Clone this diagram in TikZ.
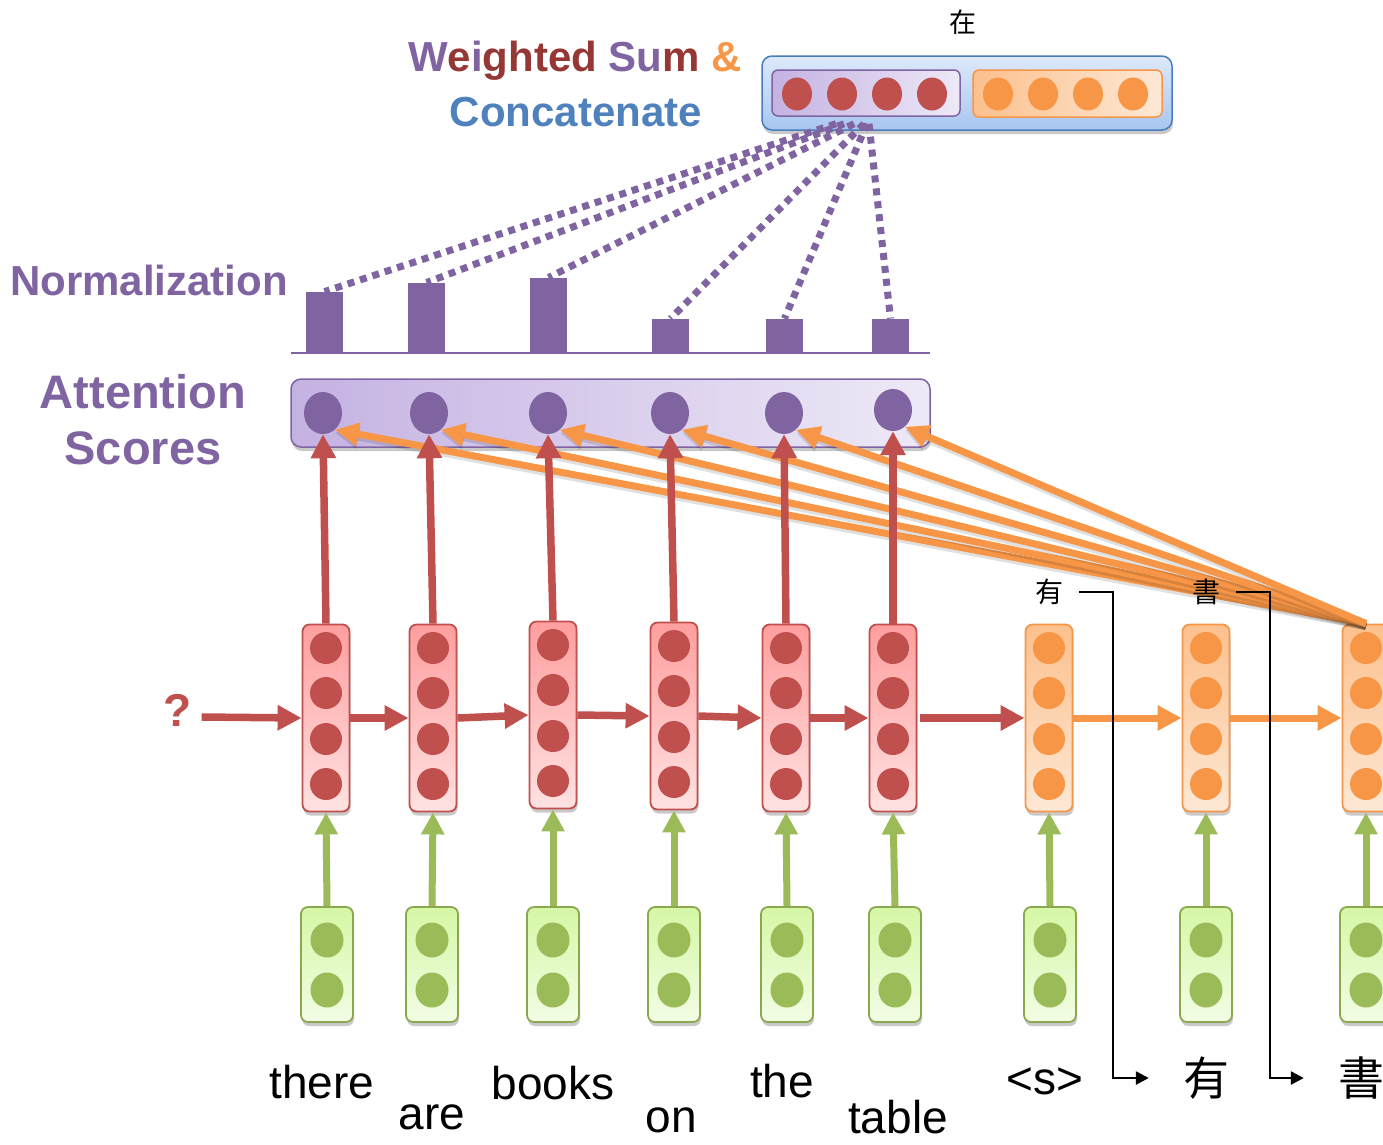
\documentclass[tikz,border=0pt]{standalone}
\usepackage{fontspec}
\setmainfont{Liberation Sans}
\newfontfamily\cjk{Noto Sans CJK TC}
\usetikzlibrary{arrows.meta,shapes.geometric,shadows,calc}
\definecolor{purp}{HTML}{8064A2}
\definecolor{redc}{HTML}{C0504D}
\definecolor{orng}{HTML}{F79646}
\definecolor{grn}{HTML}{9BBB59}
\definecolor{blueb}{HTML}{4A7EBB}
\definecolor{titlered}{HTML}{953735}
\definecolor{titleblue}{HTML}{4F81BD}
\definecolor{redtop}{HTML}{FF9E9E}
\definecolor{redbot}{HTML}{FFE2E2}
\definecolor{ortop}{HTML}{FCC08C}
\definecolor{orbot}{HTML}{FDE8D6}
\definecolor{grtop}{HTML}{D5F7A5}
\definecolor{grbot}{HTML}{F2FDE4}
\definecolor{attl}{HTML}{C4B2E2}
\definecolor{attr}{HTML}{EEE9F7}
\definecolor{bltop}{HTML}{DDE9FB}
\definecolor{blbot}{HTML}{A8C6F0}
\begin{document}
\begin{tikzpicture}[x=1pt,y=-1pt,
  shadowed/.style={drop shadow={shadow xshift=1pt,shadow yshift=-4pt,opacity=0.3,fill=black!70}},
  cellbase/.style={rectangle,rounded corners=7pt,line width=1.8pt,inner sep=0pt,
    minimum width=47pt,minimum height=187pt,shadowed},
  redcell/.style={cellbase,draw=redc,top color=redtop,bottom color=redbot},
  orcell/.style={cellbase,draw=orng,top color=ortop,bottom color=orbot},
  grcell/.style={cellbase,draw=grn!90!black,top color=grtop,bottom color=grbot,
    minimum width=52pt,minimum height=115pt},
  rdot/.style={circle,inner sep=0pt,minimum size=32pt,fill=redc},
  odot/.style={circle,inner sep=0pt,minimum size=32pt,fill=orng},
  gdot/.style={ellipse,inner sep=0pt,minimum width=33pt,minimum height=35pt,fill=grn},
  pdot/.style={ellipse,inner sep=0pt,minimum width=38pt,minimum height=42pt,fill=purp},
  vred/.style={ellipse,inner sep=0pt,minimum width=30pt,minimum height=33pt,fill=redc},
  vorg/.style={ellipse,inner sep=0pt,minimum width=30pt,minimum height=33pt,fill=orng},
  bar/.style={rectangle,fill=purp,inner sep=0pt,minimum width=37pt,anchor=south},
  redarrow/.style={draw=redc,line width=7.5pt,-{Triangle[width=24pt,length=24pt]}},
  orarrow/.style={draw=orng,line width=7pt,-{Triangle[width=24pt,length=24pt]}},
  grarrow/.style={draw=grn,line width=7pt,-{Triangle[width=22pt,length=22pt]}},
  fanarrow/.style={draw=orng,line width=7pt,-{Triangle[width=22pt,length=24pt]},
    preaction={draw=black,opacity=0.12,line width=7pt,transform canvas={yshift=-3pt}}},
  dotline/.style={draw=purp,line width=7pt,dash pattern=on 7pt off 6pt},
  conn/.style={draw=black,line width=2.5pt,-{Triangle[width=13pt,length=13pt]}},
  lbl/.style={font=\fontsize{42}{48}\selectfont\bfseries,text=purp,align=center},
  word/.style={font=\fontsize{46}{52}\selectfont,inner sep=2pt}
]
\useasboundingbox (0,0) rectangle (1383,1144);

% ---------- titles ----------
\node[lbl] (tw) at (575,61) {\textcolor{purp}{W}\textcolor{titlered}{e}\textcolor{purp}{i}\textcolor{titlered}{ghted} \textcolor{purp}{Su}\textcolor{titlered}{m} \textcolor{orng}{\&}};
\node[lbl,text=titleblue] (tc) at (576,112) {Concatenate};
\node[lbl] (tn) at (149,280) {Normalization};
\node[lbl,font=\fontsize{47}{56}\selectfont\bfseries] (ta) at (143,420) {Attention\\Scores};

% ---------- concatenated context vector ----------
\node[rectangle,rounded corners=10pt,draw=blueb,line width=1.5pt,top color=bltop,bottom color=blbot,
  minimum width=410pt,minimum height=74pt,shadowed] (ctx) at (967,93) {};
\node[rectangle,rounded corners=6pt,draw=purp,line width=1.5pt,left color=attl,right color=attr,
  minimum width=188pt,minimum height=46pt,inner sep=0pt] (cvec) at (866,93) {};
\node[rectangle,rounded corners=6pt,draw=orng,line width=1.5pt,left color=ortop,right color=orbot,
  minimum width=189pt,minimum height=47pt,inner sep=0pt] (dvec) at (1067.5,93.5) {};
\foreach \i/\x in {1/797,2/842,3/887,4/932} \node[vred] (cv\i) at (\x,94) {};
\foreach \i/\x in {1/998,2/1043,3/1088,4/1133} \node[vorg] (dv\i) at (\x,94) {};
\node[font=\cjk\fontsize{27}{30}\selectfont] (zai) at (963,22) {在};

% ---------- normalization bars ----------
\coordinate (axl) at (291,353);
\coordinate (axr) at (930,353);
\draw[purp,line width=2pt] (axl) -- (axr);
\foreach \i/\x/\h in {1/324.5/60,2/426.5/69,3/548.5/74,4/670.5/33,5/784.5/33,6/890.5/33}
  \node[bar,minimum height=\h pt] (b\i) at (\x,352) {};

% dotted weighting lines to the context vector
\foreach \i/\dx in {1/-30,2/-22,3/-12,4/-2,5/1,6/3}
  \draw[dotline] ($(cvec.south)+(\dx,7)$) -- (b\i.north);

% ---------- attention scores ----------
\node[rectangle,rounded corners=10pt,draw=purp,line width=1.5pt,left color=attl,right color=attr,
  minimum width=639pt,minimum height=68pt,shadowed] (att) at (610.5,413) {};
\foreach \i/\x/\y in {1/323/413,2/429/413,3/548/413,4/670/413,5/784/413,6/893/410}
  \node[pdot] (a\i) at (\x,\y) {};

% ---------- encoder / decoder cells ----------
\foreach \i/\x/\y in {1/326/718,2/433/718,3/553/715,4/674/716,5/786/718,6/893/718}{
  \node[redcell] (r\i) at (\x,\y) {};
  \foreach \k/\d in {1/-70,2/-25,3/21,4/66}
    \node[rdot] (r\i d\k) at (\x,\y+\d) {};
}
\foreach \i/\x in {1/1049,2/1206,3/1366}{
  \node[orcell] (o\i) at (\x,718) {};
  \foreach \k/\d in {1/-70,2/-25,3/21,4/66}
    \node[odot] (o\i d\k) at (\x,718+\d) {};
}
\foreach \i/\x in {1/327,2/432,3/553,4/674,5/787,6/895,7/1050,8/1206,9/1366}{
  \node[grcell] (g\i) at (\x,964.5) {};
  \node[gdot] (g\i a) at (\x,940) {};
  \node[gdot] (g\i b) at (\x,990) {};
}

% embeddings feed the cells
\foreach \i in {1,...,6} \draw[grarrow] (g\i.north) -- (r\i.south);
\draw[grarrow] (g7.north) -- (o1.south);
\draw[grarrow] (g8.north) -- (o2.south);
\draw[grarrow] (g9.north) -- (o3.south);

% recurrent connections
\node[font=\fontsize{46}{52}\selectfont\bfseries,text=redc] (q) at (178,710) {?};
\draw[redarrow] ($(q.east)+(6,7)$) -- (r1.west);
\foreach \i/\j in {1/2,2/3,3/4,4/5,5/6} \draw[redarrow] (r\i.east) -- (r\j.west);
\draw[redarrow,shorten <=3pt] (r6.east) -- (o1.west);
\draw[orarrow] (o1.east) -- (o2.west);
\draw[orarrow] (o2.east) -- (o3.west);

% decoder state compared with every encoder state
\foreach \i in {1,...,6} \draw[fanarrow] (o3.north) -- (a\i.-55);
% encoder states into the scores
\foreach \i in {1,...,6} \draw[redarrow] (r\i.north) -- (a\i.south);

% ---------- words ----------
\node[word] (w1) at (322,1082) {there};
\node[word] (w2) at (432,1117) {are};
\node[word] (w3) at (553,1083) {books};
\node[word] (w4) at (671,1120) {on};
\node[word] (w5) at (782,1081) {the};
\node[word] (w6) at (898,1117) {table};
\node[word] (w7) at (1045,1081) {<s>};
\node[word,font=\cjk\fontsize{46}{52}\selectfont] (w8) at (1206,1078) {有};
\node[word,font=\cjk\fontsize{46}{52}\selectfont] (w9) at (1361,1078) {書};

% predicted words fed back as the next inputs
\node[font=\cjk\fontsize{28}{30}\selectfont,inner sep=2pt] (p1) at (1049,592) {有};
\node[font=\cjk\fontsize{28}{30}\selectfont,inner sep=2pt] (p2) at (1206,592) {書};
\draw[conn] ($(p1.east)+(14,0)$) -- ++(34,0) |- ($(w8.west)+(-32,0)$);
\draw[conn] ($(p2.east)+(14,0)$) -- ++(34,0) |- ($(w9.west)+(-32,0)$);
\end{tikzpicture}
\end{document}
